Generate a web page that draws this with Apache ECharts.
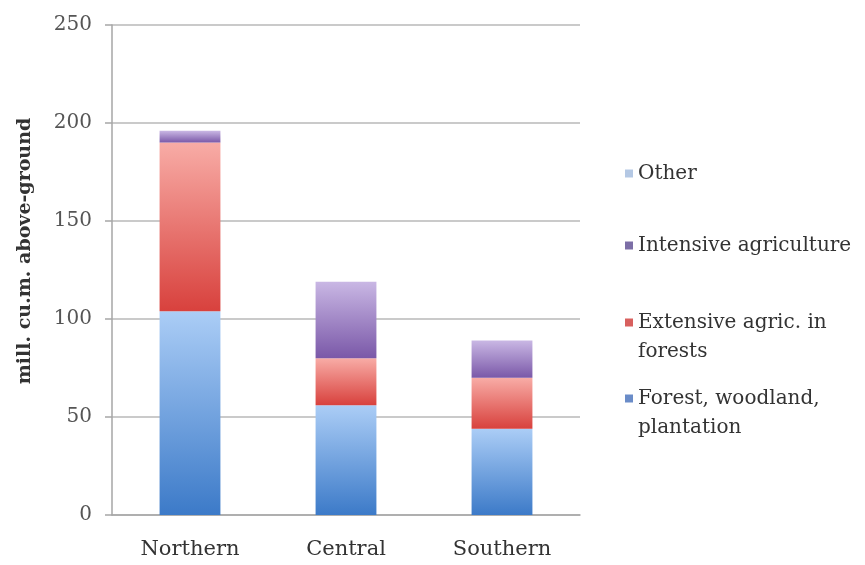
<!DOCTYPE html>
<html>
<head>
<meta charset="utf-8">
<script src="https://cdn.jsdelivr.net/npm/echarts@6/dist/echarts.min.js"></script>
<style>
  html, body { margin: 0; padding: 0; background: #fff; }
  #chart { width: 865px; height: 565px; }
</style>
</head>
<body>
<div id="chart"></div>
<script>
// Regions along the x axis
const regions = ['Northern', 'Central', 'Southern'];

// Above-ground volume by land use, mill. cu.m.
const forestWoodland = [104, 56, 44];
const extensiveAgric = [86, 24, 26];
const intensiveAgric = [6, 39, 19];
const otherUse = [0, 0, 0];

// Value axis ticks
const yTicks = [0, 50, 100, 150, 200, 250];

const serif = '"DejaVu Serif", "Liberation Serif", serif';

function grad(top, bottom) {
  return new echarts.graphic.LinearGradient(0, 0, 0, 1, [
    { offset: 0, color: top },
    { offset: 1, color: bottom }
  ]);
}

const chart = echarts.init(document.getElementById('chart'), null, { renderer: 'canvas' });

// One legend block per entry so each can sit at its own height.
// Two-line entries get a leading blank line so the swatch lines up with the first line.
const legendText = { fontFamily: serif, fontSize: 20, color: '#333', lineHeight: 29 };
function legendAt(top, name, label, color) {
  return {
    orient: 'vertical',
    left: 620,
    top: top,
    itemWidth: 8,
    itemHeight: 8,
    itemGap: 0,
    selectedMode: false,
    icon: 'rect',
    data: [{ name: name, itemStyle: { color: color } }],
    formatter: () => label,
    textStyle: legendText
  };
}

chart.setOption({
  animation: false,
  backgroundColor: '#fff',
  grid: { left: 112, right: 285, top: 25, bottom: 50 },
  legend: [
    legendAt(154, 'Other', 'Other', '#b4c8e4'),
    legendAt(226, 'Intensive agriculture', 'Intensive agriculture', '#7c6ea6'),
    legendAt(274, 'Extensive agric. in forests', '\nExtensive agric. in\nforests', '#d8605e'),
    legendAt(350, 'Forest, woodland, plantation', '\nForest, woodland,\nplantation', '#6a8cc8')
  ],
  xAxis: {
    type: 'category',
    data: regions,
    axisLine: { lineStyle: { color: '#a6a6a6', width: 1.5 } },
    axisTick: { show: false },
    axisLabel: { fontFamily: serif, fontSize: 21, color: '#333', margin: 24 }
  },
  yAxis: {
    type: 'value',
    min: yTicks[0],
    max: yTicks[yTicks.length - 1],
    interval: 50,
    name: 'mill. cu.m. above-ground',
    nameLocation: 'middle',
    nameGap: 77,
    nameTextStyle: {
      fontFamily: serif, fontSize: 19, fontWeight: 'bold', color: '#333',
      padding: [0, 0, 0, 38]
    },
    axisLine: { show: true, lineStyle: { color: '#a6a6a6', width: 1.5 } },
    axisTick: { show: true, length: 7, lineStyle: { color: '#a6a6a6', width: 1.5 } },
    axisLabel: { fontFamily: serif, fontSize: 20, color: '#555', margin: 20 },
    splitLine: { lineStyle: { color: '#b8b8b8', width: 1.5 } }
  },
  series: [
    {
      name: 'Forest, woodland, plantation', type: 'bar', stack: 'total',
      barCategoryGap: '61%',
      data: forestWoodland,
      itemStyle: { color: grad('#abcdf6', '#3c7ac8') }
    },
    {
      name: 'Extensive agric. in forests', type: 'bar', stack: 'total',
      data: extensiveAgric,
      itemStyle: { color: grad('#f8aca6', '#d8413d') }
    },
    {
      name: 'Intensive agriculture', type: 'bar', stack: 'total',
      data: intensiveAgric,
      itemStyle: { color: grad('#c9b7e4', '#7a58a8') }
    },
    {
      name: 'Other', type: 'bar', stack: 'total',
      data: otherUse,
      itemStyle: { color: '#b4c8e4' }
    }
  ]
});
</script>
</body>
</html>
